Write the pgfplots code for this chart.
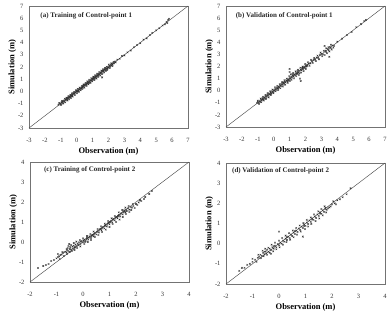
\documentclass[border=0pt]{standalone}
\usepackage{pgfplots}
\pgfplotsset{compat=1.18}
\usepackage{fontspec}
\setmainfont{Liberation Serif}

\pgfplotsset{
  panel/.style={
    scale only axis,
    anchor=south west,
    width=159pt,
    axis line style={black!55, line width=0.5pt},
    major tick length=0pt,
    tick label style={font=\fontsize{6.5}{7}\selectfont, text=black!80},
    /pgf/number format/assume math mode=true,
    xticklabel style={anchor=north, yshift=-7pt},
    yticklabel style={xshift=-2pt},
    xlabel={\textbf{Observation (m)}},
    ylabel={\textbf{Simulation (m)}},
    label style={font=\fontsize{8.5}{9}\selectfont},
    xlabel style={at={(axis description cs:0.5,0)}, anchor=north, yshift=-16pt},
    ylabel style={yshift=-5pt},
    clip=false,
  },
  pts/.style={only marks, mark=x, mark size=1.1pt, black!80, mark options={line width=0.4pt}},
  oneone/.style={black!70, line width=0.45pt},
}
\tikzset{ttl/.style={anchor=west, font=\fontsize{7}{8}\selectfont\bfseries, text=black!85}}

\begin{document}
\begin{tikzpicture}
\useasboundingbox (0,0) rectangle (391pt,314pt);

% (a) training, control point 1
\begin{axis}[panel, at={(29pt,186pt)}, height=122pt,
  xmin=-3, xmax=7, ymin=-3, ymax=7, xtick={-3,...,7}, ytick={-3,...,7}]
\addplot[oneone] coordinates {(-3,-3) (7,7)};
\addplot[pts] table {
-1.15 -1.10
-1.05 -0.98
-1.00 -1.05
-0.95 -0.90
-0.90 -0.82
-0.88 -0.95
-0.80 -0.75
-0.78 -0.85
-0.70 -0.66
-0.68 -0.72
-0.62 -0.58
-0.60 -0.65
-0.55 -0.50
-0.50 -0.55
-0.45 -0.42
-0.42 -0.48
-0.38 -0.35
-0.35 -0.40
-0.30 -0.25
-0.28 -0.33
-0.22 -0.20
-0.20 -0.15
-0.15 -0.18
-0.10 -0.05
-0.08 -0.12
-0.02 0.00
0.00 0.05
0.05 -0.02
0.08 0.10
0.12 0.08
0.15 0.20
0.20 0.15
0.22 0.25
0.28 0.30
0.30 0.22
0.35 0.38
0.38 0.32
0.42 0.45
0.45 0.40
0.50 0.55
0.52 0.48
0.58 0.60
0.60 0.55
0.65 0.70
0.68 0.62
0.72 0.78
0.75 0.70
0.80 0.85
0.82 0.76
0.88 0.90
0.90 0.95
0.95 0.88
1.00 1.05
1.02 0.96
1.08 1.10
1.10 1.02
1.15 1.20
1.18 1.10
1.22 1.25
1.25 1.18
1.30 1.35
1.32 1.28
1.38 1.40
1.40 1.45
1.45 1.38
1.50 1.55
1.52 1.48
1.58 1.60
1.60 1.15
1.62 1.68
1.68 1.70
1.70 1.62
1.75 1.80
1.80 1.75
1.85 1.90
1.90 1.85
1.95 2.00
2.00 1.95
2.05 2.10
2.10 2.05
2.15 2.20
2.20 2.12
2.28 2.30
2.35 2.30
2.40 2.45
2.55 2.60
2.70 2.68
2.85 2.90
3.00 2.95
3.20 3.20
3.40 3.35
3.60 3.62
3.80 3.80
4.00 3.95
4.20 4.25
4.40 4.35
4.60 4.62
4.75 4.80
5.00 5.00
5.20 5.18
5.40 5.40
5.55 5.50
5.65 5.70
5.70 5.60
5.75 5.85
5.80 5.95
-0.60 -0.52
-0.30 -0.36
0.10 0.02
0.40 0.48
0.70 0.66
1.05 1.12
1.35 1.30
1.65 1.72
1.95 1.88
2.25 2.22
-1.10 -0.95
-0.98 -1.12
-0.92 -0.78
-0.85 -1.00
-0.75 -0.60
-0.72 -0.90
-0.65 -0.52
-0.58 -0.75
-0.52 -0.38
-0.48 -0.65
-0.40 -0.28
-0.36 -0.55
-0.30 -0.15
-0.25 -0.42
-0.18 -0.05
-0.12 -0.30
-0.05 0.10
0.02 -0.15
0.06 0.22
0.14 -0.02
0.18 0.32
0.25 0.10
0.32 0.45
0.36 0.20
0.44 0.58
0.48 0.30
0.55 0.70
0.62 0.45
0.66 0.82
0.74 0.58
0.78 0.95
0.86 0.70
0.92 1.08
0.98 0.82
1.04 1.20
1.12 0.92
1.16 1.32
1.24 1.05
1.28 1.45
1.36 1.18
1.42 1.58
1.48 1.30
1.55 1.70
1.60 1.42
1.66 1.82
1.72 1.55
1.78 1.92
1.84 1.68
1.88 2.02
1.92 1.75
2.02 2.20
2.08 1.92
2.18 2.30
2.25 2.08
2.32 2.42
2.45 2.38
};
\node[ttl] at (axis cs:-2.5,6.2) {(a) Training of Control-point 1};
\end{axis}

% (b) validation, control point 1
\begin{axis}[panel, at={(226pt,187pt)}, height=121pt,
  xmin=-3, xmax=7, ymin=-3, ymax=7, xtick={-3,...,7}, ytick={-3,...,7}]
\addplot[oneone] coordinates {(-3,-3) (7,7)};
\addplot[pts] table {
-1.05 -1.00
-1.00 -0.90
-0.95 -1.02
-0.90 -0.85
-0.85 -0.92
-0.80 -0.72
-0.75 -0.80
-0.70 -0.62
-0.65 -0.70
-0.60 -0.55
-0.55 -0.62
-0.50 -0.45
-0.45 -0.52
-0.40 -0.35
-0.35 -0.42
-0.30 -0.25
-0.25 -0.32
-0.20 -0.15
-0.15 -0.22
-0.10 -0.05
-0.05 -0.12
0.00 0.05
0.05 -0.02
0.10 0.15
0.15 0.08
0.20 0.25
0.25 0.18
0.30 0.35
0.35 0.28
0.40 0.45
0.45 0.38
0.50 0.55
0.55 0.48
0.60 0.65
0.65 0.58
0.70 0.75
0.75 0.68
0.80 0.85
0.85 0.78
0.90 0.95
0.95 0.88
1.00 1.80
1.00 1.55
1.00 1.05
1.05 0.98
1.10 1.15
1.15 1.08
1.20 1.25
1.25 1.18
1.30 1.35
1.35 1.28
1.40 1.45
1.45 1.38
1.50 1.55
1.55 1.48
1.60 1.65
1.65 1.00
1.70 0.80
1.70 1.75
1.75 1.68
1.80 1.85
1.85 1.78
1.90 1.95
1.95 1.88
2.00 2.05
2.05 1.98
2.10 2.15
2.20 2.25
2.30 2.25
2.40 2.45
2.50 2.55
2.60 2.58
2.70 2.75
2.80 2.72
2.90 2.95
3.00 3.05
3.10 3.00
3.20 3.70
3.25 3.30
3.30 3.20
3.40 3.45
3.45 3.35
3.50 2.80
3.55 3.60
3.60 3.50
3.70 3.75
3.80 3.70
4.00 4.05
4.30 4.30
4.60 4.60
4.90 4.85
5.20 5.25
5.50 5.50
5.70 5.75
5.80 5.85
-0.70 -0.75
-0.20 -0.28
0.30 0.22
0.60 0.70
0.90 0.82
1.20 1.30
1.50 1.42
1.80 1.90
2.10 2.05
-1.00 -0.82
-0.92 -1.10
-0.82 -0.65
-0.78 -0.95
-0.68 -0.50
-0.62 -0.80
-0.52 -0.35
-0.48 -0.68
-0.38 -0.20
-0.32 -0.55
-0.22 -0.05
-0.18 -0.35
-0.08 0.10
-0.02 -0.20
0.08 0.28
0.12 -0.05
0.22 0.40
0.28 0.05
0.38 0.55
0.42 0.20
0.52 0.70
0.58 0.35
0.68 0.88
0.72 0.50
0.82 1.00
0.88 0.65
0.98 1.20
1.02 0.80
1.08 1.35
1.12 0.90
1.22 1.45
1.28 1.02
1.38 1.60
1.42 1.20
1.52 1.72
1.58 1.30
1.62 1.45
1.68 1.90
1.72 1.50
1.82 2.00
1.88 1.62
1.98 2.20
2.02 1.80
2.15 2.35
2.25 2.05
2.35 2.55
2.45 2.30
2.55 2.70
2.65 2.45
2.75 2.90
2.85 2.60
2.95 3.15
3.05 2.85
3.15 3.30
3.20 2.95
3.30 3.50
3.35 3.10
3.45 3.60
3.50 3.25
3.60 3.80
3.65 3.40
3.75 3.55
};
\node[ttl] at (axis cs:-2.6,6.2) {(b) Validation of Control-point 1};
\end{axis}

% (c) training, control point 2
\begin{axis}[panel, at={(30pt,32pt)}, height=120pt,
  xmin=-2, xmax=4, ymin=-2, ymax=4, xtick={-2,...,4}, ytick={-2,...,4}]
\addplot[oneone] coordinates {(-2,-2) (4,4)};
\addplot[pts] table {
-1.70 -1.30
-1.50 -1.20
-1.40 -1.15
-1.30 -1.10
-1.20 -0.95
-1.10 -0.90
-1.00 -0.82
-0.95 -0.75
-0.90 -0.72
-0.85 -0.65
-0.80 -0.62
-0.75 -0.55
-0.70 -0.50
-0.65 -0.48
-0.60 -0.40
-0.58 -0.30
-0.55 -0.45
-0.52 -0.10
-0.50 -0.35
-0.48 -0.25
-0.45 -0.38
-0.40 -0.22
-0.38 -0.32
-0.35 -0.18
-0.30 -0.25
-0.28 -0.12
-0.25 -0.20
-0.20 -0.08
-0.18 -0.15
-0.15 -0.02
-0.10 -0.10
-0.08 0.02
-0.05 0.05
0.00 -0.02
0.02 0.08
0.05 0.12
0.10 0.05
0.12 0.15
0.15 0.20
0.20 0.12
0.22 0.22
0.25 0.28
0.30 0.20
0.32 0.30
0.35 0.35
0.40 0.28
0.42 0.40
0.45 0.45
0.50 0.38
0.52 0.50
0.55 0.55
0.60 0.48
0.62 0.60
0.65 0.65
0.70 0.58
0.72 0.70
0.75 0.75
0.80 0.68
0.82 0.80
0.85 0.85
0.90 0.78
0.92 0.90
0.95 0.95
1.00 0.88
1.02 1.00
1.05 1.05
1.10 0.98
1.12 1.10
1.15 1.15
1.20 1.08
1.22 1.20
1.25 1.25
1.30 1.18
1.32 1.30
1.35 1.35
1.40 1.28
1.42 1.40
1.45 1.45
1.50 1.38
1.52 1.50
1.55 1.58
1.60 1.48
1.62 1.62
1.65 1.55
1.70 1.68
1.75 1.62
1.80 1.75
1.85 1.72
1.90 1.80
2.00 1.90
2.10 1.98
2.20 2.05
2.35 2.25
2.50 2.40
2.60 2.55
-0.62 -0.52
-0.32 -0.28
0.08 0.00
0.38 0.36
0.68 0.66
0.98 0.96
1.28 1.24
1.58 1.52
-0.95 -0.60
-0.88 -0.85
-0.78 -0.50
-0.72 -0.70
-0.62 -0.35
-0.60 -0.60
-0.55 -0.20
-0.50 -0.50
-0.45 -0.15
-0.42 -0.45
-0.35 -0.05
-0.32 -0.40
-0.25 0.02
-0.22 -0.30
-0.12 0.10
-0.10 -0.22
0.00 0.18
0.05 -0.10
0.15 0.30
0.18 0.00
0.28 0.40
0.30 0.10
0.40 0.52
0.45 0.25
0.55 0.65
0.58 0.35
0.68 0.78
0.72 0.50
0.82 0.92
0.86 0.62
0.95 1.05
1.00 0.75
1.08 1.18
1.12 0.90
1.20 1.30
1.25 1.00
1.35 1.48
1.38 1.12
1.48 1.60
1.50 1.25
1.60 1.72
1.62 1.40
1.72 1.80
1.75 1.50
1.82 1.60
1.88 1.90
1.95 1.70
2.05 1.85
2.15 2.10
2.30 2.15
};
\node[ttl] at (axis cs:-1.6,3.6) {(c) Training of Control-point 2};
\end{axis}

% (d) validation, control point 2
\begin{axis}[panel, at={(226pt,30pt)}, height=121pt,
  xmin=-2, xmax=4, ymin=-2, ymax=4, xtick={-2,...,4}, ytick={-2,...,4}]
\addplot[oneone] coordinates {(-2,-2) (4,4)};
\addplot[pts] table {
-1.50 -1.35
-1.30 -1.20
-1.20 -1.05
-1.10 -1.00
-1.00 -0.90
-0.90 -0.80
-0.80 -0.70
-0.75 -0.65
-0.70 -0.55
-0.65 -0.60
-0.60 -0.45
-0.55 -0.52
-0.50 -0.38
-0.48 -0.48
-0.45 -0.30
-0.40 -0.40
-0.35 -0.25
-0.30 -0.50
-0.30 -0.32
-0.25 -0.18
-0.20 -0.25
-0.15 -0.10
-0.10 -0.18
-0.05 -0.02
0.00 0.60
0.00 -0.08
0.05 0.05
0.10 0.00
0.15 0.15
0.20 0.10
0.25 0.25
0.30 0.18
0.35 0.35
0.40 0.28
0.45 0.45
0.50 0.38
0.55 0.55
0.60 0.48
0.65 0.65
0.70 0.58
0.75 0.75
0.80 0.68
0.85 0.85
0.90 0.35
0.90 0.78
0.95 0.95
1.00 0.88
1.05 1.05
1.10 0.98
1.15 1.15
1.20 1.08
1.25 1.25
1.30 1.18
1.35 1.35
1.40 1.28
1.45 1.45
1.50 1.38
1.55 1.55
1.60 1.48
1.65 1.65
1.70 1.58
1.75 1.72
1.80 1.68
1.90 1.80
2.00 1.95
2.10 2.00
2.20 2.15
2.40 2.30
2.55 2.45
2.70 2.75
-0.55 -0.40
-0.20 -0.12
0.30 0.32
0.60 0.62
0.95 0.88
1.25 1.20
1.55 1.50
1.75 1.78
-1.40 -1.20
-1.00 -0.75
-0.85 -0.90
-0.78 -0.55
-0.68 -0.72
-0.62 -0.35
-0.58 -0.62
-0.52 -0.25
-0.45 -0.55
-0.40 -0.20
-0.35 -0.45
-0.28 -0.05
-0.22 -0.38
-0.15 0.05
-0.10 -0.28
0.00 0.15
0.02 -0.18
0.12 0.28
0.15 -0.05
0.25 0.40
0.28 0.08
0.38 0.52
0.42 0.20
0.52 0.65
0.55 0.32
0.65 0.78
0.68 0.45
0.78 0.90
0.82 0.60
0.92 1.02
0.98 0.72
1.05 1.18
1.10 0.85
1.20 1.30
1.22 0.98
1.32 1.45
1.38 1.12
1.48 1.60
1.52 1.25
1.60 1.72
1.65 1.40
1.72 1.85
1.78 1.55
1.85 1.75
1.95 1.85
2.05 2.10
2.15 1.95
2.30 2.20
};
\node[ttl] at (axis cs:-1.9,3.6) {(d) Validation of Control-point 2};
\end{axis}
\end{tikzpicture}
\end{document}
